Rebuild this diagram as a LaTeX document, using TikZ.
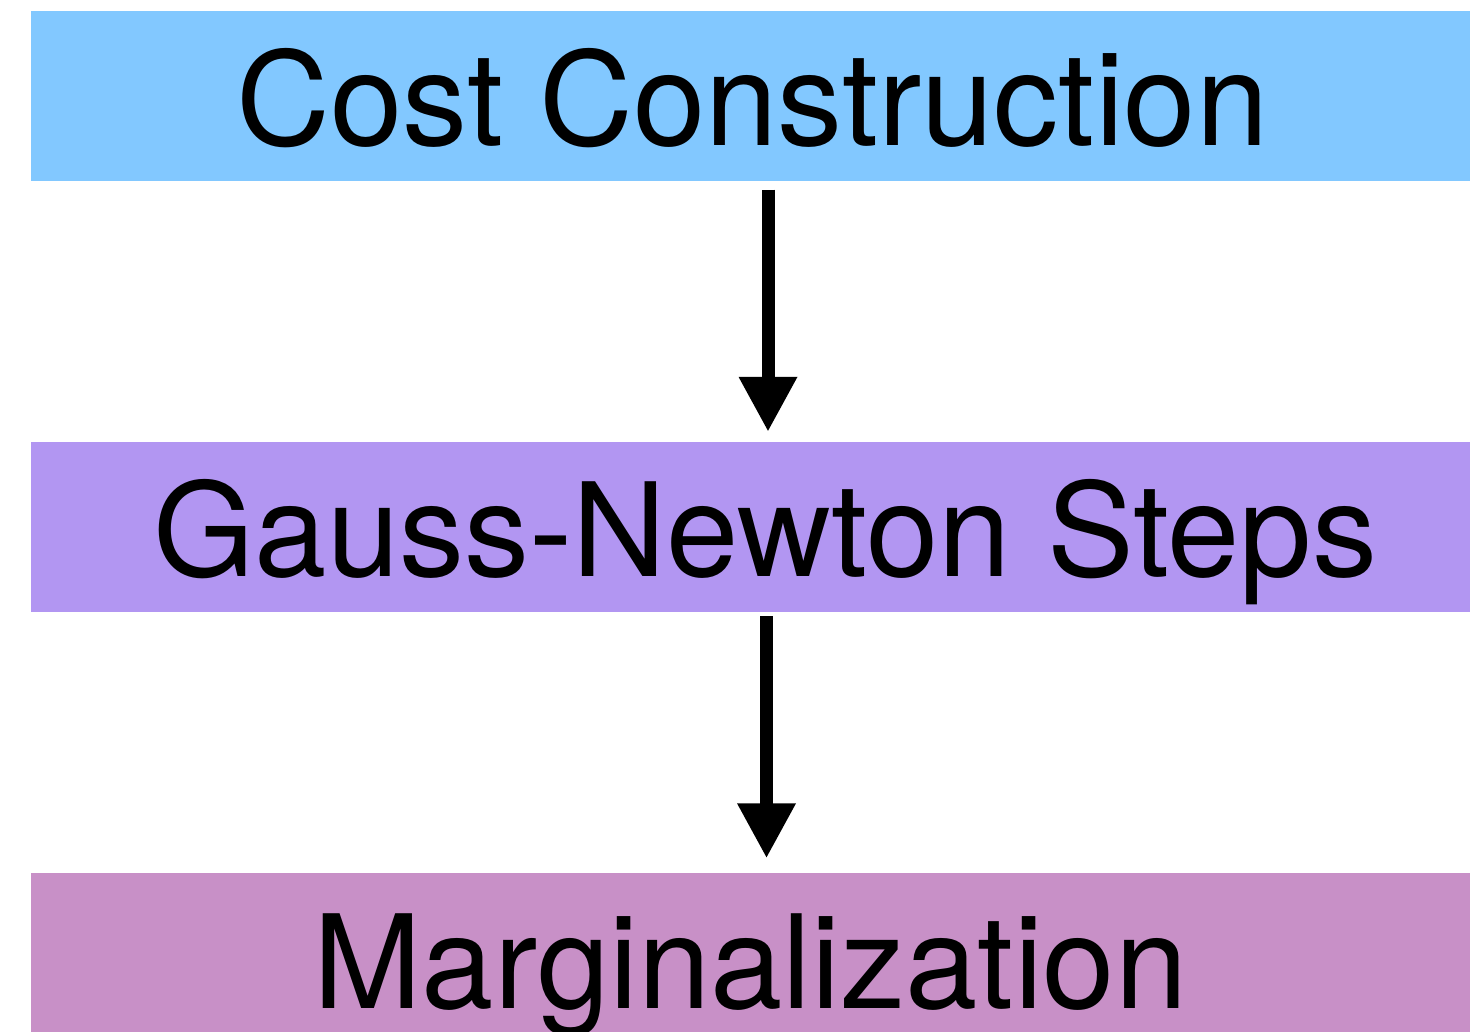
\documentclass[tikz,border=0pt]{standalone}
\usepackage{fontspec}
\setmainfont{TeX Gyre Heros}
\usepackage{xcolor}
\usepackage{tikz}
\usetikzlibrary{arrows.meta, positioning, calc}

\definecolor{costblue}{RGB}{130,200,255}
\definecolor{gnpurple}{RGB}{178,150,242}
\definecolor{margpink}{RGB}{200,144,199}

\begin{document}
\begin{tikzpicture}[
        stage/.style={minimum width=14.39cm, minimum height=1.70cm, inner sep=0pt,
            text height=1cm, text depth=0cm,
            font=\fontsize{37}{40}\selectfont},
        flow/.style={line width=0.13cm, -{Triangle[length=5.5mm, width=5.5mm]}}
    ]
        \useasboundingbox (0,0) rectangle (14.7,-10.31);

        \node[stage, fill=costblue] (cost) at (7.505,-0.96) {\hspace*{0.4mm}Cost Construction};
        \node[stage, fill=gnpurple] (gn) at (7.505,-5.265) {\hspace*{3mm}Gauss-Newton Steps};
        \node[stage, fill=margpink] (marg) at (7.505,-9.58) {Marginalization};

        \draw[flow] ([xshift=1.75mm, yshift=-0.8mm]cost.south) -- ([xshift=1.75mm, yshift=0.9mm]gn.north);
        \draw[flow] ([xshift=1.6mm, yshift=-0.4mm]gn.south) -- ([xshift=1.6mm, yshift=1.4mm]marg.north);
    \end{tikzpicture}
\end{document}
